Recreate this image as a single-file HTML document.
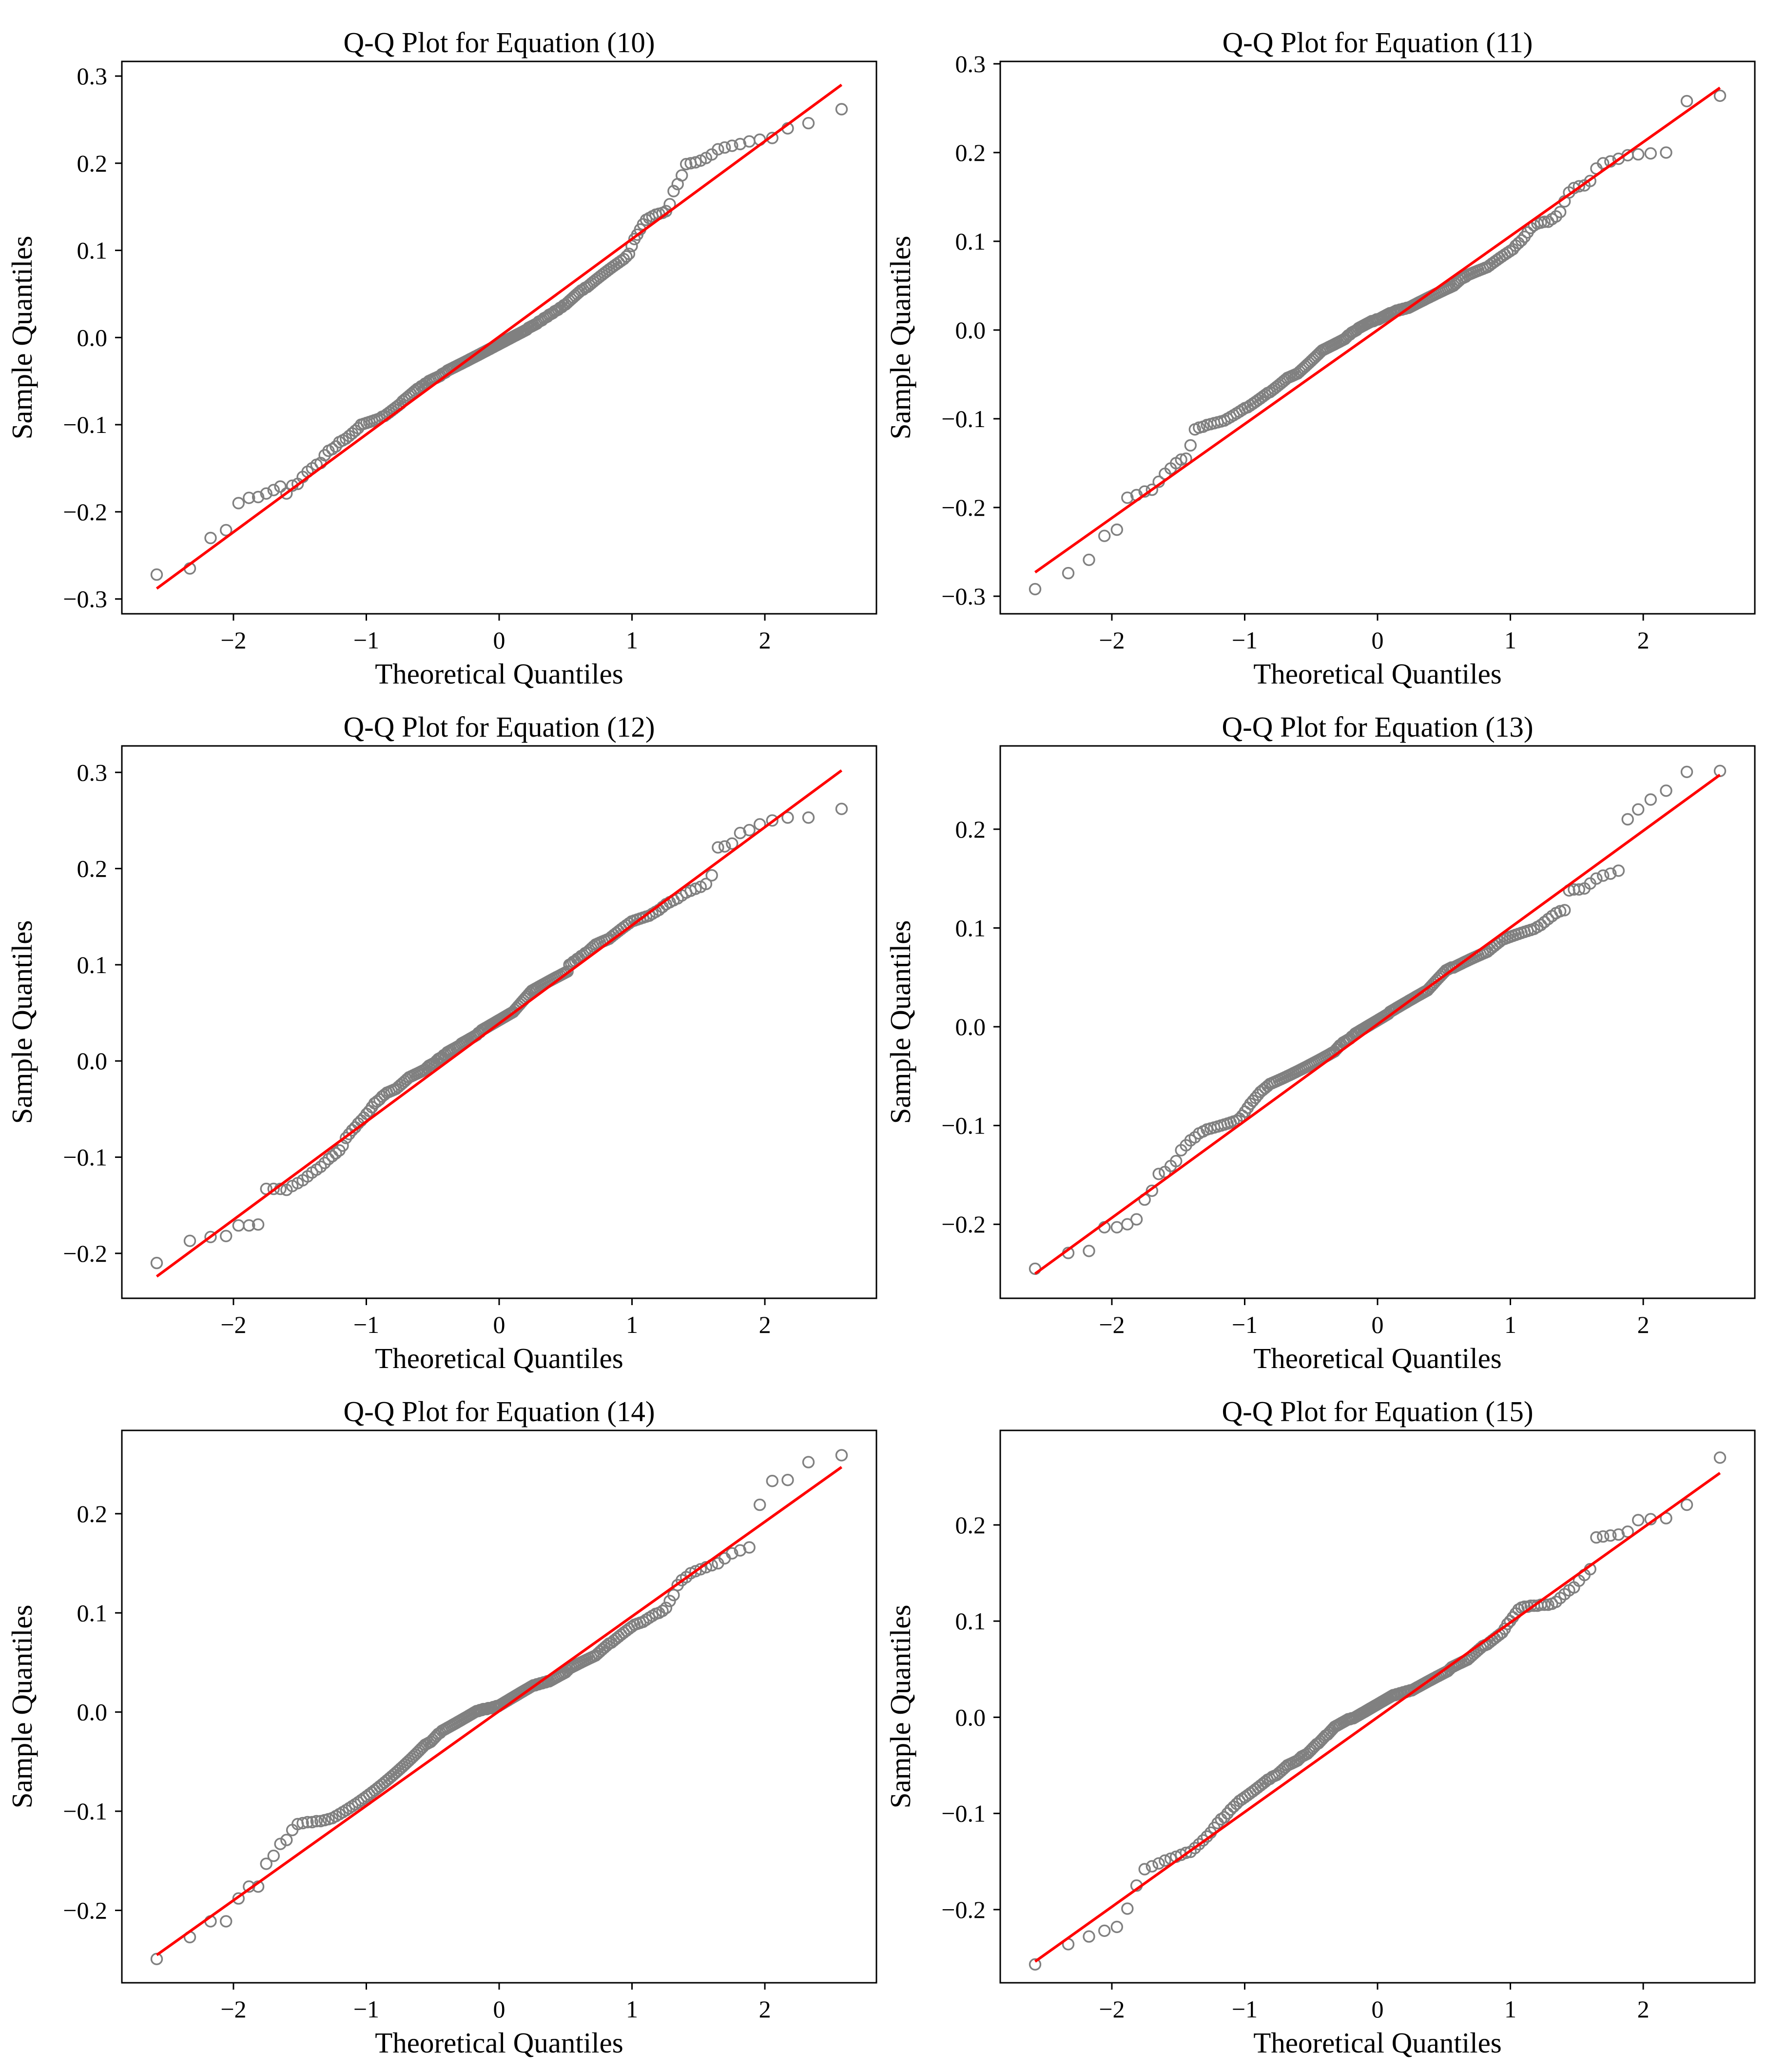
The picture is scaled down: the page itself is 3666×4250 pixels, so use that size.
<!DOCTYPE html>
<html><head><meta charset="utf-8">
<style>
html,body{margin:0;padding:0;background:#fff;}
svg{display:block;}
text{font-family:"Liberation Serif","DejaVu Serif",serif;fill:#000;}
</style></head>
<body>
<svg id="fig" width="3666" height="4250" viewBox="0 0 3666 4250" xmlns="http://www.w3.org/2000/svg"></svg>
<script>
// ---- data ----
const titles = ["Q-Q Plot for Equation (10)","Q-Q Plot for Equation (11)","Q-Q Plot for Equation (12)","Q-Q Plot for Equation (13)","Q-Q Plot for Equation (14)","Q-Q Plot for Equation (15)"];
const eq10 = [-0.272,-0.265,-0.230,-0.221,-0.190,-0.184,-0.183,-0.179,-0.175,-0.171,
-0.179,-0.170,-0.168,-0.160,-0.154,-0.150,-0.146,-0.144,-0.135,-0.130,
-0.128,-0.125,-0.120,-0.118,-0.116,-0.113,-0.110,-0.107,-0.104,-0.100,
-0.099,-0.098,-0.097,-0.096,-0.095,-0.094,-0.093,-0.091,-0.090,-0.088,
-0.086,-0.084,-0.082,-0.080,-0.078,-0.076,-0.073,-0.071,-0.069,-0.067,
-0.065,-0.063,-0.061,-0.059,-0.058,-0.056,-0.055,-0.053,-0.052,-0.050,
-0.049,-0.048,-0.047,-0.046,-0.045,-0.044,-0.042,-0.041,-0.040,-0.038,
-0.037,-0.036,-0.035,-0.034,-0.033,-0.032,-0.031,-0.030,-0.029,-0.028,
-0.027,-0.026,-0.025,-0.024,-0.023,-0.022,-0.021,-0.020,-0.019,-0.018,
-0.017,-0.016,-0.015,-0.014,-0.013,-0.012,-0.011,-0.010,-0.009,-0.008,
-0.007,-0.006,-0.005,-0.004,-0.003,-0.002,-0.001,0.000,0.001,0.002,
0.003,0.004,0.005,0.006,0.007,0.008,0.009,0.011,0.012,0.013,
0.014,0.015,0.016,0.018,0.019,0.020,0.022,0.023,0.024,0.026,
0.027,0.028,0.030,0.031,0.032,0.034,0.035,0.037,0.038,0.040,
0.042,0.044,0.046,0.048,0.050,0.052,0.054,0.055,0.057,0.058,
0.060,0.062,0.064,0.066,0.068,0.070,0.072,0.074,0.076,0.078,
0.080,0.082,0.084,0.086,0.088,0.090,0.093,0.096,0.105,0.113,
0.118,0.124,0.130,0.135,0.137,0.139,0.141,0.142,0.143,0.145,
0.153,0.168,0.176,0.186,0.199,0.200,0.201,0.203,0.206,0.210,
0.216,0.218,0.220,0.222,0.225,0.227,0.229,0.240,0.246,0.262];
const eq11 = [-0.292,-0.274,-0.259,-0.232,-0.225,-0.189,-0.186,-0.182,-0.180,-0.171,
-0.162,-0.156,-0.150,-0.146,-0.145,-0.130,-0.112,-0.110,-0.109,-0.107,
-0.106,-0.105,-0.104,-0.103,-0.102,-0.100,-0.098,-0.096,-0.094,-0.092,
-0.090,-0.088,-0.087,-0.085,-0.083,-0.081,-0.079,-0.077,-0.075,-0.073,
-0.071,-0.070,-0.068,-0.066,-0.064,-0.062,-0.060,-0.058,-0.056,-0.054,
-0.053,-0.052,-0.051,-0.050,-0.049,-0.047,-0.045,-0.043,-0.041,-0.039,
-0.037,-0.035,-0.033,-0.031,-0.029,-0.027,-0.025,-0.023,-0.022,-0.021,
-0.020,-0.019,-0.018,-0.017,-0.016,-0.015,-0.014,-0.013,-0.012,-0.011,
-0.010,-0.008,-0.006,-0.005,-0.003,-0.002,-0.001,0.000,0.002,0.003,
0.004,0.005,0.006,0.007,0.008,0.009,0.010,0.010,0.011,0.012,
0.012,0.013,0.014,0.015,0.016,0.017,0.018,0.019,0.019,0.020,
0.021,0.022,0.022,0.023,0.023,0.024,0.024,0.025,0.025,0.026,
0.027,0.028,0.029,0.030,0.031,0.032,0.033,0.034,0.035,0.036,
0.037,0.038,0.039,0.040,0.041,0.042,0.043,0.044,0.045,0.046,
0.047,0.048,0.049,0.050,0.052,0.054,0.056,0.058,0.059,0.060,
0.062,0.063,0.064,0.065,0.066,0.067,0.068,0.069,0.070,0.071,
0.073,0.075,0.077,0.079,0.081,0.083,0.085,0.087,0.089,0.091,
0.095,0.098,0.101,0.105,0.110,0.115,0.118,0.120,0.121,0.122,
0.122,0.125,0.128,0.133,0.145,0.155,0.160,0.162,0.163,0.168,
0.182,0.188,0.190,0.193,0.197,0.198,0.199,0.200,0.258,0.264];
const eq12 = [-0.210,-0.187,-0.183,-0.182,-0.171,-0.171,-0.170,-0.133,-0.133,-0.133,
-0.134,-0.130,-0.127,-0.124,-0.120,-0.116,-0.113,-0.110,-0.106,-0.102,
-0.099,-0.096,-0.093,-0.088,-0.080,-0.076,-0.072,-0.069,-0.065,-0.062,
-0.059,-0.055,-0.052,-0.048,-0.044,-0.042,-0.040,-0.037,-0.035,-0.033,
-0.032,-0.031,-0.030,-0.029,-0.027,-0.025,-0.023,-0.021,-0.019,-0.017,
-0.016,-0.015,-0.014,-0.013,-0.012,-0.011,-0.010,-0.009,-0.007,-0.005,
-0.004,-0.003,-0.002,0.000,0.002,0.003,0.004,0.006,0.007,0.009,
0.010,0.011,0.012,0.013,0.014,0.015,0.016,0.018,0.019,0.020,
0.021,0.022,0.023,0.024,0.025,0.026,0.027,0.029,0.030,0.032,
0.033,0.034,0.035,0.036,0.037,0.038,0.039,0.040,0.041,0.042,
0.043,0.044,0.045,0.046,0.047,0.048,0.049,0.050,0.051,0.053,
0.055,0.057,0.059,0.061,0.063,0.065,0.067,0.069,0.071,0.073,
0.074,0.075,0.076,0.077,0.078,0.079,0.080,0.081,0.082,0.083,
0.084,0.085,0.086,0.087,0.088,0.089,0.090,0.091,0.092,0.093,
0.100,0.101,0.103,0.104,0.106,0.107,0.109,0.110,0.112,0.113,
0.115,0.117,0.119,0.121,0.122,0.123,0.124,0.125,0.126,0.127,
0.129,0.131,0.133,0.135,0.137,0.139,0.141,0.143,0.145,0.146,
0.147,0.148,0.149,0.150,0.151,0.153,0.155,0.157,0.160,0.163,
0.165,0.167,0.169,0.172,0.175,0.177,0.179,0.181,0.184,0.193,
0.222,0.223,0.226,0.237,0.240,0.246,0.250,0.253,0.253,0.262];
const eq13 = [-0.245,-0.229,-0.227,-0.203,-0.203,-0.200,-0.195,-0.175,-0.166,-0.149,
-0.147,-0.141,-0.136,-0.125,-0.120,-0.115,-0.112,-0.108,-0.106,-0.104,
-0.103,-0.102,-0.101,-0.100,-0.099,-0.098,-0.097,-0.096,-0.095,-0.093,
-0.090,-0.086,-0.082,-0.078,-0.075,-0.072,-0.069,-0.066,-0.064,-0.062,
-0.060,-0.058,-0.057,-0.056,-0.055,-0.054,-0.053,-0.052,-0.051,-0.050,
-0.049,-0.048,-0.047,-0.046,-0.045,-0.044,-0.043,-0.042,-0.041,-0.040,
-0.039,-0.038,-0.037,-0.036,-0.035,-0.034,-0.033,-0.032,-0.031,-0.030,
-0.029,-0.028,-0.027,-0.026,-0.025,-0.023,-0.021,-0.019,-0.018,-0.016,
-0.015,-0.014,-0.013,-0.012,-0.010,-0.009,-0.007,-0.006,-0.005,-0.004,
-0.003,-0.002,-0.001,0.000,0.001,0.002,0.003,0.004,0.005,0.006,
0.007,0.008,0.009,0.010,0.011,0.012,0.013,0.015,0.016,0.017,
0.018,0.019,0.020,0.021,0.022,0.023,0.024,0.025,0.026,0.027,
0.028,0.029,0.030,0.031,0.032,0.033,0.034,0.035,0.036,0.037,
0.039,0.041,0.043,0.045,0.047,0.049,0.051,0.053,0.055,0.057,
0.058,0.059,0.060,0.060,0.061,0.062,0.063,0.064,0.065,0.066,
0.067,0.068,0.069,0.070,0.071,0.072,0.073,0.074,0.075,0.076,
0.078,0.080,0.082,0.084,0.086,0.088,0.089,0.090,0.091,0.092,
0.093,0.094,0.095,0.096,0.097,0.098,0.099,0.101,0.103,0.106,
0.109,0.112,0.115,0.117,0.118,0.138,0.139,0.139,0.140,0.145,
0.150,0.153,0.155,0.158,0.210,0.220,0.230,0.239,0.258,0.259];
const eq14 = [-0.249,-0.227,-0.211,-0.211,-0.188,-0.176,-0.176,-0.153,-0.145,-0.133,
-0.129,-0.119,-0.113,-0.112,-0.111,-0.111,-0.110,-0.110,-0.109,-0.108,
-0.107,-0.105,-0.103,-0.101,-0.099,-0.097,-0.095,-0.093,-0.091,-0.089,
-0.087,-0.085,-0.083,-0.081,-0.079,-0.077,-0.075,-0.073,-0.071,-0.069,
-0.067,-0.065,-0.063,-0.061,-0.059,-0.057,-0.055,-0.053,-0.051,-0.049,
-0.047,-0.045,-0.043,-0.041,-0.039,-0.037,-0.035,-0.033,-0.032,-0.031,
-0.030,-0.028,-0.026,-0.024,-0.022,-0.021,-0.019,-0.018,-0.017,-0.016,
-0.015,-0.014,-0.013,-0.012,-0.011,-0.010,-0.009,-0.008,-0.007,-0.006,
-0.005,-0.004,-0.003,-0.002,-0.001,0.000,0.001,0.001,0.002,0.002,
0.003,0.003,0.003,0.004,0.004,0.004,0.005,0.005,0.006,0.006,
0.007,0.008,0.009,0.010,0.011,0.012,0.013,0.014,0.015,0.016,
0.017,0.018,0.019,0.020,0.021,0.022,0.023,0.024,0.025,0.026,
0.027,0.027,0.028,0.028,0.029,0.029,0.030,0.030,0.031,0.031,
0.032,0.033,0.034,0.035,0.036,0.037,0.038,0.039,0.040,0.042,
0.044,0.045,0.046,0.047,0.048,0.049,0.050,0.051,0.052,0.053,
0.054,0.055,0.056,0.057,0.059,0.061,0.063,0.065,0.067,0.069,
0.070,0.072,0.074,0.076,0.078,0.080,0.082,0.084,0.086,0.088,
0.089,0.090,0.091,0.093,0.095,0.097,0.099,0.100,0.102,0.105,
0.112,0.118,0.128,0.133,0.136,0.140,0.142,0.144,0.146,0.148,
0.150,0.155,0.160,0.163,0.166,0.209,0.233,0.234,0.252,0.259];
const eq15 = [-0.257,-0.236,-0.228,-0.222,-0.218,-0.199,-0.175,-0.158,-0.155,-0.152,
-0.149,-0.147,-0.145,-0.143,-0.141,-0.140,-0.136,-0.132,-0.128,-0.124,
-0.120,-0.115,-0.110,-0.106,-0.104,-0.100,-0.096,-0.093,-0.090,-0.087,
-0.085,-0.083,-0.081,-0.079,-0.077,-0.075,-0.073,-0.071,-0.069,-0.067,
-0.065,-0.064,-0.062,-0.061,-0.060,-0.058,-0.056,-0.054,-0.052,-0.050,
-0.049,-0.048,-0.047,-0.046,-0.045,-0.043,-0.041,-0.040,-0.039,-0.038,
-0.036,-0.034,-0.032,-0.030,-0.028,-0.027,-0.025,-0.023,-0.021,-0.019,
-0.018,-0.016,-0.014,-0.012,-0.010,-0.009,-0.008,-0.007,-0.006,-0.005,
-0.004,-0.003,-0.002,-0.002,-0.001,-0.001,0.000,0.001,0.002,0.003,
0.004,0.005,0.006,0.007,0.008,0.009,0.010,0.011,0.012,0.013,
0.014,0.015,0.016,0.017,0.018,0.019,0.020,0.021,0.022,0.023,
0.023,0.024,0.024,0.025,0.025,0.026,0.026,0.027,0.027,0.028,
0.028,0.029,0.030,0.031,0.032,0.033,0.034,0.035,0.036,0.037,
0.038,0.039,0.040,0.041,0.042,0.043,0.044,0.045,0.046,0.047,
0.048,0.050,0.052,0.053,0.054,0.055,0.056,0.057,0.058,0.059,
0.060,0.062,0.064,0.066,0.068,0.070,0.072,0.074,0.075,0.076,
0.078,0.080,0.082,0.084,0.086,0.088,0.092,0.097,0.100,0.104,
0.108,0.112,0.114,0.115,0.115,0.116,0.116,0.116,0.117,0.117,
0.117,0.118,0.120,0.124,0.128,0.132,0.135,0.142,0.148,0.154,
0.187,0.188,0.189,0.190,0.193,0.205,0.206,0.207,0.221,0.270];
const samples = [eq10, eq11, eq12, eq13, eq14, eq15];
const lineStart = [-0.288, -0.273, -0.224, -0.250, -0.245, -0.254];
const lineEnd = [0.290, 0.273, 0.302, 0.255, 0.247, 0.254];
const yMin = [-0.317, -0.3198, -0.2467, -0.2749, -0.273, -0.2761];
const yMax = [0.3168, 0.3027, 0.3275, 0.2843, 0.284, 0.2983];
const yTicks = [[-0.3,-0.2,-0.1,0,0.1,0.2,0.3],[-0.3,-0.2,-0.1,0,0.1,0.2,0.3],[-0.2,-0.1,0,0.1,0.2,0.3],[-0.2,-0.1,0,0.1,0.2],[-0.2,-0.1,0,0.1,0.2],[-0.2,-0.1,0,0.1,0.2]];
const xTicks = [-2,-1,0,1,2];

// ---- layout ----
const NS = "http://www.w3.org/2000/svg";
const fig = document.getElementById('fig');
const colLeft = [250, 2052], rowTop = [126, 1530, 2934];
const W = 1548, H = 1133, XMIN = -2.840, XMAX = 2.840;

function invNorm(p){
  const a=[-39.69683028665376,220.9460984245205,-275.9285104469687,138.3577518672690,-30.66479806614716,2.506628277459239];
  const b=[-54.47609879822406,161.5858368580409,-155.6989798598866,66.80131188771972,-13.28068155288572];
  const c=[-0.007784894002430293,-0.3223964580411365,-2.400758277161838,-2.549732539343734,4.374664141464968,2.938163982698783];
  const d=[0.007784695709041462,0.3224671290700398,2.445134137142996,3.754408661907416];
  const pl=0.02425;let q,r;
  if(p<pl){q=Math.sqrt(-2*Math.log(p));return (((((c[0]*q+c[1])*q+c[2])*q+c[3])*q+c[4])*q+c[5])/((((d[0]*q+d[1])*q+d[2])*q+d[3])*q+1);}
  if(p>1-pl){q=Math.sqrt(-2*Math.log(1-p));return -(((((c[0]*q+c[1])*q+c[2])*q+c[3])*q+c[4])*q+c[5])/((((d[0]*q+d[1])*q+d[2])*q+d[3])*q+1);}
  q=p-0.5;r=q*q;return (((((a[0]*r+a[1])*r+a[2])*r+a[3])*r+a[4])*r+a[5])*q/(((((b[0]*r+b[1])*r+b[2])*r+b[3])*r+b[4])*r+1);
}
function el(tag, attrs, parent){
  const e=document.createElementNS(NS,tag);
  for(const k in attrs) e.setAttribute(k, attrs[k]);
  (parent||fig).appendChild(e); return e;
}
function fmt(v){ const s=Math.abs(v).toFixed(1); return (v<0?'\u2212':'')+s; }

samples.forEach((data, k) => {
  const L = colLeft[k%2], T = rowTop[Math.floor(k/2)];
  const sx = v => L + (v - XMIN) / (XMAX - XMIN) * W;
  const sy = v => T + H - (v - yMin[k]) / (yMax[k] - yMin[k]) * H;
  const g = el('g', {});
  
  

  const t = el('text', {x: L + W/2, y: T - 19, 'font-size': 59, 'text-anchor': 'middle'}, g);
  t.textContent = titles[k];
  
  

  const n = data.length;
  const pg = el('g', {}, g);
  
  
  data.forEach((v, i) => {
    const z = invNorm((i+1)/(n+1));
    const c = el('circle', {cx: sx(z).toFixed(1), cy: sy(v).toFixed(1), r: 11, fill: 'none', stroke: '#808080', 'stroke-width': 3.4}, pg);
    
    
  });
  const z0 = invNorm(1/(n+1)), z1 = invNorm(n/(n+1));
  const ln = el('line', {x1: sx(z0), y1: sy(lineStart[k]), x2: sx(z1), y2: sy(lineEnd[k]), stroke: '#ff0000', 'stroke-width': 5.5}, g);
  
  

  const fr = el('rect', {x: L, y: T, width: W, height: H, fill: 'none', stroke: '#000', 'stroke-width': 3}, g);
  
  

  xTicks.forEach(v => {
    const x = sx(v);
    const tk = el('line', {x1: x, y1: T+H, x2: x, y2: T+H+14, stroke: '#000', 'stroke-width': 3}, g);
    
    
    const tl = el('text', {x: x, y: T+H+71, 'font-size': 50, 'text-anchor': 'middle'}, g);
    tl.textContent = v < 0 ? '\u2212' + Math.abs(v) : String(v);
    
    
  });
  const xl = el('text', {x: L + W/2, y: T+H+143, 'font-size': 59, 'text-anchor': 'middle'}, g);
  xl.textContent = 'Theoretical Quantiles';
  
  

  yTicks[k].forEach(v => {
    const y = sy(v);
    const tk = el('line', {x1: L-14, y1: y, x2: L, y2: y, stroke: '#000', 'stroke-width': 3}, g);
    
    
    const tl = el('text', {x: L-30, y: y+17, 'font-size': 50, 'text-anchor': 'end'}, g);
    tl.textContent = fmt(v);
    
    
  });
  const cy = T + H/2, cx = L - 185;
  const yl = el('text', {x: cx, y: cy, 'font-size': 59, 'text-anchor': 'middle', transform: 'rotate(-90 ' + cx + ' ' + cy + ')'}, g);
  yl.textContent = 'Sample Quantiles';
  
  
});
</script>
</body></html>
